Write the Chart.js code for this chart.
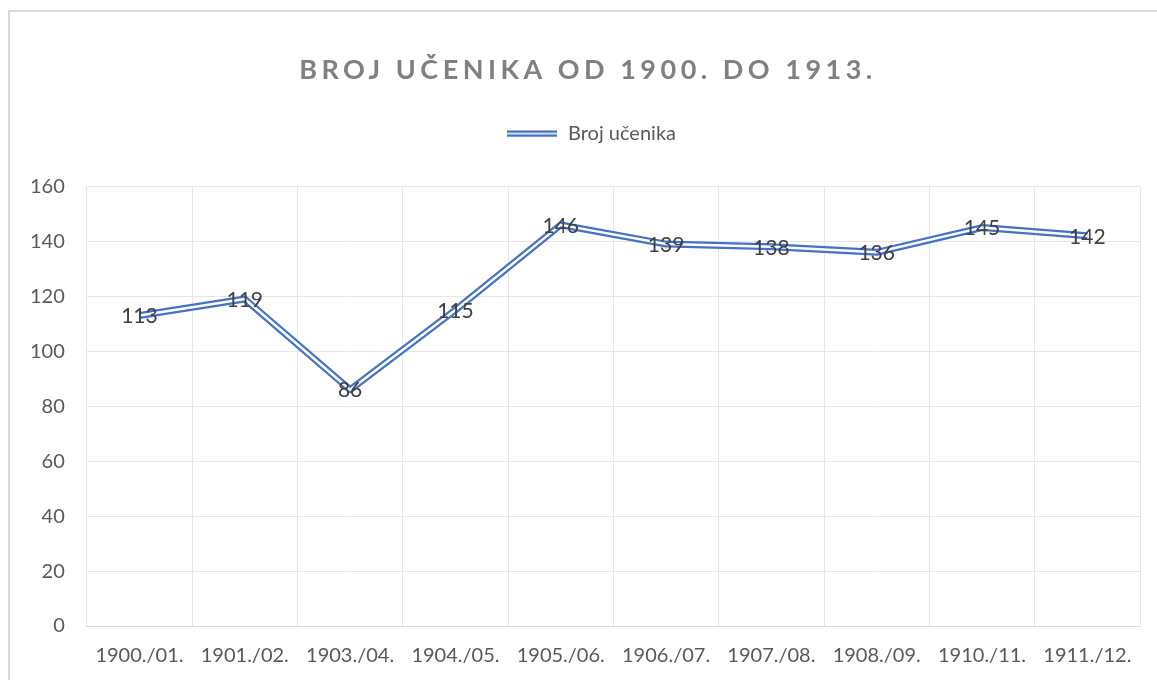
<!DOCTYPE html>
<html>
<head>
<meta charset="utf-8">
<script src="https://cdn.jsdelivr.net/npm/chart.js@4.4.1/dist/chart.umd.min.js"></script>
<style>
    html, body { margin: 0; padding: 0; background: #fff; overflow: hidden; }
    #frame {
        position: absolute; left: 8px; top: 10px;
        width: 1170px; height: 700px;
        border-left: 2px solid #d9d9d9; border-top: 2px solid #d9d9d9;
    }
    #wrap { position: absolute; left: 0; top: 0; width: 1157px; height: 680px; }
</style>
</head>
<body>
<div id="frame"></div>
<div id="wrap"><canvas id="ChartUcenici"></canvas></div>
<script>
// Podaci
const godine = ['1900./01.', '1901./02.', '1903./04.', '1904./05.', '1905./06.',
                '1906./07.', '1907./08.', '1908./09.', '1910./11.', '1911./12.'];
const brojUcenika = [113, 119, 86, 115, 146, 139, 138, 136, 145, 142];
const yTicks = [0, 20, 40, 60, 80, 100, 120, 140, 160];

const blue = '#4472C4';
const font = 'Lato, "Noto Sans", sans-serif';

// Legend icon: double line
const icon = document.createElement('canvas');
icon.width = 50; icon.height = 8;
(function () {
    const c = icon.getContext('2d');
    c.fillStyle = blue;
    c.fillRect(0, 1, 50, 2.5);
    c.fillRect(0, 5, 50, 2.5);
})();

// wrap a box's draw with a horizontal shift (and optional letter spacing)
function wrapDraw(box, dx, spacing) {
    if (!box || box._wrapped) return;
    const orig = box.draw.bind(box);
    box.draw = function (area) {
        const c = this.ctx;
        c.save();
        c.translate(dx, 0);
        if (spacing) c.letterSpacing = spacing;
        orig(area);
        c.restore();
    };
    box._wrapped = true;
}

const layoutTweaks = {
    id: 'layoutTweaks',
    beforeInit(chart) {
        const lg = chart.legend;
        if (lg) {
            const fit = lg.fit.bind(lg);
            lg.fit = function () { fit(); this.height += 33; };
        }
    },
    beforeDraw(chart) {
        wrapDraw(chart.titleBlock, 14, '4.5px');
        wrapDraw(chart.legend, 17, null);
    }
};

// Inner white stroke (compound line) + data labels
const doubleLine = {
    id: 'doubleLine',
    afterDatasetsDraw(chart) {
        const ctx = chart.ctx;
        const pts = chart.getDatasetMeta(0).data;
        ctx.save();
        ctx.strokeStyle = '#ffffff';
        ctx.lineWidth = 2.5;
        ctx.lineJoin = 'round';
        ctx.beginPath();
        pts.forEach((p, i) => i ? ctx.lineTo(p.x, p.y) : ctx.moveTo(p.x, p.y));
        ctx.stroke();

        ctx.fillStyle = '#404040';
        ctx.font = '21px ' + font;
        ctx.textAlign = 'center';
        ctx.textBaseline = 'middle';
        pts.forEach((p, i) => ctx.fillText(String(brojUcenika[i]), p.x, p.y + 1));
        ctx.restore();
    }
};

new Chart(document.getElementById('ChartUcenici'), {
    type: 'line',
    data: {
        labels: godine,
        datasets: [{
            label: 'Broj učenika',
            data: brojUcenika,
            borderColor: blue,
            backgroundColor: blue,
            borderWidth: 7,
            pointRadius: 0,
            tension: 0,
            borderJoinStyle: 'round'
        }]
    },
    options: {
        responsive: true,
        maintainAspectRatio: false,
        animation: false,
        layout: { padding: { left: 8, right: 17, top: 42, bottom: -6 } },
        plugins: {
            title: {
                display: true,
                text: 'BROJ UČENIKA OD 1900. DO 1913.',
                color: '#808080',
                font: { family: font, size: 27, weight: 'bold' },
                padding: { top: 12, bottom: 27 }
            },
            legend: {
                display: true,
                labels: {
                    usePointStyle: true,
                    pointStyle: icon,
                    pointStyleWidth: 52,
                    color: '#595959',
                    font: { family: font, size: 20 },
                    padding: 10
                }
            },
            tooltip: { enabled: false }
        },
        scales: {
            x: {
                offset: true,
                grid: { color: '#e6e6e6', offset: true, drawTicks: false },
                border: { color: '#d9d9d9' },
                ticks: { color: '#595959', font: { family: font, size: 20 }, padding: 18, maxRotation: 0 }
            },
            y: {
                min: 0,
                max: 160,
                afterBuildTicks: axis => { axis.ticks = yTicks.map(v => ({ value: v })); },
                grid: { color: '#e6e6e6', drawTicks: false },
                border: { display: false },
                ticks: { color: '#595959', font: { family: font, size: 20 }, padding: 22 }
            }
        }
    },
    plugins: [layoutTweaks, doubleLine]
});
</script>
</body>
</html>
